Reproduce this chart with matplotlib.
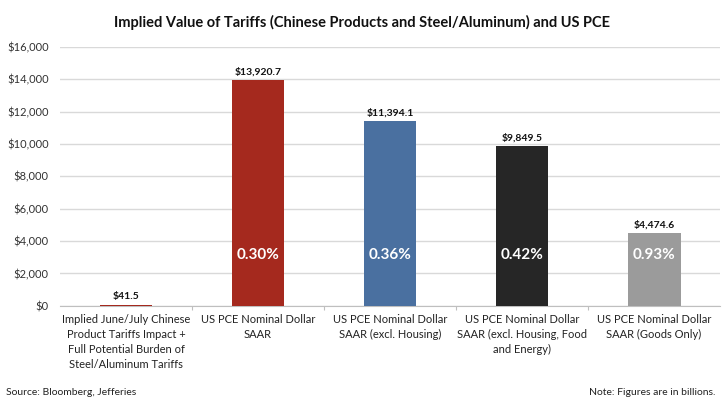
import matplotlib.pyplot as plt
from matplotlib.ticker import FuncFormatter, MultipleLocator

plt.rcParams['font.family'] = ['Lato', 'DejaVu Sans']

categories = [
    "Implied June/July Chinese\nProduct Tariffs Impact +\nFull Potential Burden of\nSteel/Aluminum Tariffs",
    "US PCE Nominal Dollar\nSAAR",
    "US PCE Nominal Dollar\nSAAR (excl. Housing)",
    "US PCE Nominal Dollar\nSAAR (excl. Housing, Food\nand Energy)",
    "US PCE Nominal Dollar\nSAAR (Goods Only)",
]
values = [41.5, 13920.7, 11394.1, 9849.5, 4474.6]
shares = [None, "0.30%", "0.36%", "0.42%", "0.93%"]
colors = ["#A5291E", "#A5291E", "#4A70A0", "#262626", "#9B9B9B"]

fig = plt.figure(figsize=(7.23, 4.03), dpi=100)
ax = fig.add_axes([0.083, 0.241, 0.913, 0.643])

x = range(len(values))
ax.bar(x, values, width=0.4, color=colors, zorder=3)

for i, v in enumerate(values):
    ax.text(i, v + 250, f"${v:,.1f}", ha="center", va="bottom",
            fontsize=7.5, fontweight="bold", color="#111111")
    if shares[i]:
        ax.text(i, 3150, shares[i], ha="center", va="center",
                fontsize=11, fontweight="bold", color="white", zorder=4)

ax.set_ylim(0, 16000)
ax.set_xlim(-0.5, len(values) - 0.5)
ax.yaxis.set_major_locator(MultipleLocator(2000))
ax.yaxis.set_major_formatter(FuncFormatter(lambda v, _: f"${v:,.0f}"))
ax.grid(axis="y", color="#D9D9D9", linewidth=1, zorder=0)

# category separators as major ticks, names on minor ticks at bar centres
ax.set_xticks([i - 0.5 for i in range(1, len(values))], minor=False)
ax.set_xticklabels([])
ax.tick_params(axis="x", length=3, color="#BFBFBF")
ax.set_xticks(list(x), minor=True)
ax.set_xticklabels(categories, minor=True, fontsize=8, color="#222222", linespacing=1.45)
ax.tick_params(axis="x", which="minor", length=0, pad=6)
ax.tick_params(axis="y", length=0, labelsize=8, labelcolor="#333333", pad=8)

for side in ["top", "right", "left"]:
    ax.spines[side].set_visible(False)
ax.spines["bottom"].set_color("#BFBFBF")

fig.text(0.5, 0.945, "Implied Value of Tariffs (Chinese Products and Steel/Aluminum) and US PCE",
         ha="center", va="center", fontsize=10.5, fontweight="bold", color="#111111")
fig.text(0.008, 0.025, "Source: Bloomberg, Jefferies", ha="left", va="center",
         fontsize=7.5, color="#222222")
fig.text(0.99, 0.025, "Note: Figures are in billions.", ha="right", va="center",
         fontsize=7.5, color="#222222")

fig.savefig("out.png", dpi=100)
